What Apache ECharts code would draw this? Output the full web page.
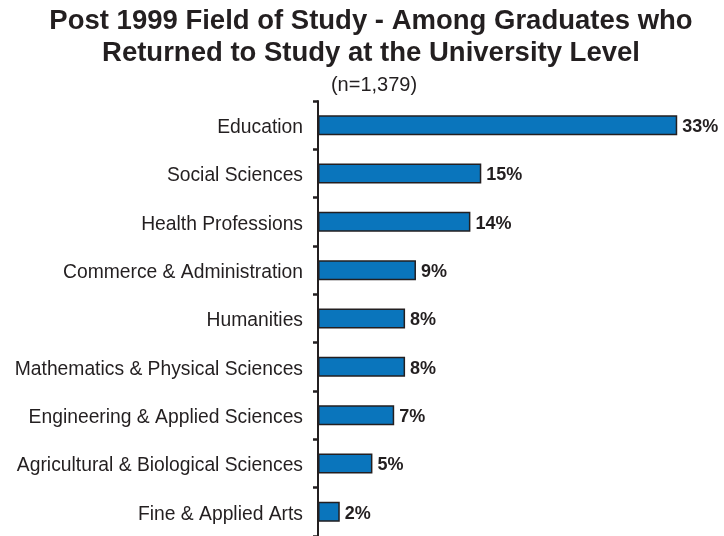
<!DOCTYPE html>
<html>
<head>
<meta charset="utf-8">
<script src="https://cdn.jsdelivr.net/npm/echarts@6/dist/echarts.min.js"></script>
<style>
  html, body { margin: 0; padding: 0; background: #fff; }
  #chart { width: 724px; height: 536px; }
</style>
</head>
<body>
<div id="chart"></div>
<script>
// Fields of study, listed top to bottom
const categories = [
  'Education',
  'Social Sciences',
  'Health Professions',
  'Commerce & Administration',
  'Humanities',
  'Mathematics & Physical Sciences',
  'Engineering & Applied Sciences',
  'Agricultural & Biological Sciences',
  'Fine & Applied Arts'
];
// Share of graduates (%)
const shares = [33, 15, 14, 9, 8, 8, 7, 5, 2];

const ink = '#231f20';
const chart = echarts.init(document.getElementById('chart'));
chart.setOption({
  animation: false,
  title: [
    {
      text: 'Post 1999 Field of Study - Among Graduates who\nReturned to Study at the University Level',
      left: 366, top: 0, textAlign: 'center',
      textStyle: { fontFamily: 'Liberation Sans', fontWeight: 'bold', fontSize: 27.5, lineHeight: 32, color: ink }
    },
    {
      text: '(n=1,379)',
      left: 369, top: 70, textAlign: 'center',
      textStyle: { fontFamily: 'Liberation Sans', fontWeight: 'normal', fontSize: 20, color: ink }
    }
  ],
  grid: { left: 318, top: 101, width: 381, height: 437, containLabel: false },
  xAxis: {
    type: 'value', min: 0, max: 35, show: false
  },
  yAxis: {
    type: 'category',
    inverse: true,
    data: categories,
    axisLine: { show: true, lineStyle: { color: ink, width: 2 } },
    axisTick: { show: true, inside: false, length: 5, lineStyle: { color: ink, width: 2.5 } },
    axisLabel: {
      margin: 15, verticalAlign: 'top', lineHeight: 5,
      fontFamily: 'Liberation Sans', fontSize: 19.3, color: ink
    },
    splitLine: { show: false }
  },
  series: [{
    type: 'bar',
    data: shares,
    barWidth: 20,
    itemStyle: { color: '#0a75bc', borderColor: ink, borderWidth: 1.5 },
    label: {
      show: true, position: 'right', distance: 5, offset: [0, 2],
      formatter: p => p.value + '%',
      fontFamily: 'Liberation Sans', fontWeight: 'bold', fontSize: 18, color: ink
    }
  }]
});
</script>
</body>
</html>
